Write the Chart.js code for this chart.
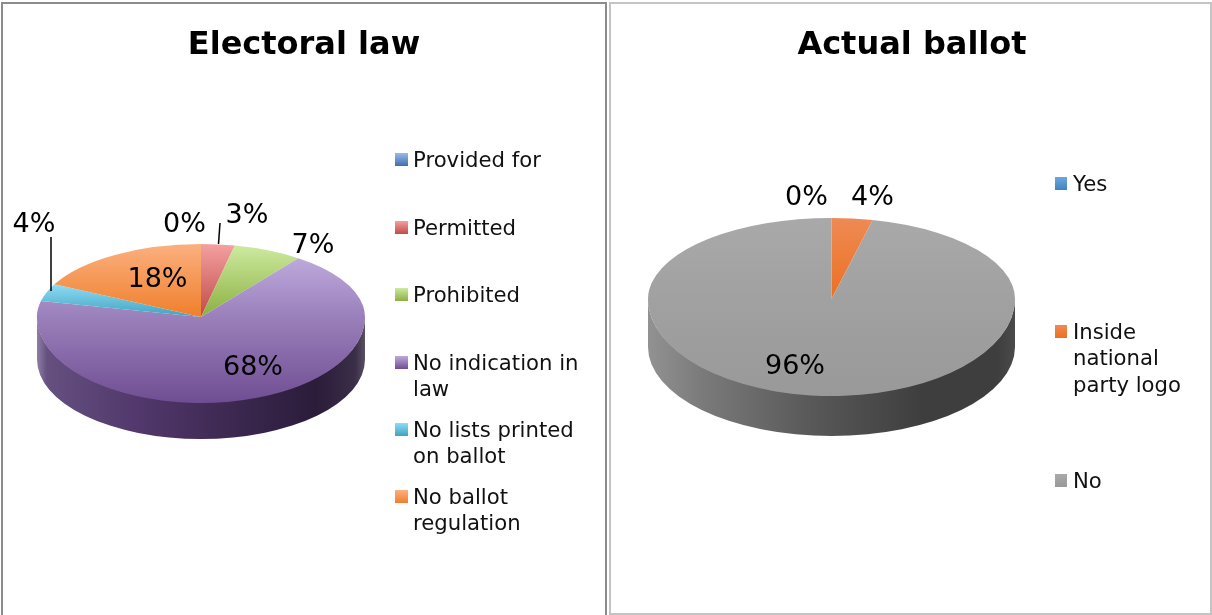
<!DOCTYPE html>
<html>
<head>
<meta charset="utf-8">
<title>Ballot charts</title>
<script src="https://cdn.jsdelivr.net/npm/chart.js@4"></script>
<style>
  html, body { margin: 0; padding: 0; background: #fff; width: 1212px; height: 615px; overflow: hidden; }
  canvas { position: absolute; top: 0; }
  #lawChart { left: 0; }
  #ballotChart { left: 608px; }
  .frame { position: absolute; box-sizing: border-box; pointer-events: none; }
  #lawFrame { left: 1px; top: 2px; width: 606px; height: 640px; border: 2px solid #8c8c8c; }
  #ballotFrame { left: 609px; top: 2px; width: 603px; height: 613px; border: 2px solid #c4c4c4; }
</style>
</head>
<body>
<canvas id="lawChart" width="608" height="615"></canvas>
<canvas id="ballotChart" width="608" height="615"></canvas>
<div class="frame" id="lawFrame"></div>
<div class="frame" id="ballotFrame"></div>
<script>
// electoral law pie
const lawTitle = 'Electoral law';
const lawCategories = ['Provided for', 'Permitted', 'Prohibited', 'No indication in law', 'No lists printed on ballot', 'No ballot regulation'];
const lawValues = [0, 3.3, 6.8, 68.4, 3.9, 17.6];

// actual ballot pie
const ballotTitle = 'Actual ballot';
const ballotCategories = ['Yes', 'Inside national party logo', 'No'];
const ballotValues = [0, 3.6, 96.4];

const FONT = '"DejaVu Sans", Verdana, sans-serif';

// light -> dark, top to bottom of every slice
const lawFills = [['#9db8ec', '#3f6fa8'], ['#f4a0a0', '#bf4b48'], ['#cdeaa0', '#8bb040'], ['#bda9dc', '#6f4d92'], ['#8fdcf5', '#3fa3c0'], ['#fbb07f', '#f07f2b']];
const ballotFills = [['#6ea6dc', '#3f82c4'], ['#ee8a55', '#ec7020'], ['#a9a9a9', '#999999']];

function sliceFill(values, fills) {
  return function (c) {
    const pair = fills[c.dataIndex];
    const area = c.chart.chartArea;
    if (!area) return pair[0];
    const total = values.reduce((a, b) => a + b, 0);
    const before = values.slice(0, c.dataIndex).reduce((a, b) => a + b, 0);
    const r = Math.min(area.right - area.left, area.bottom - area.top) / 2;
    const cy = (area.top + area.bottom) / 2;
    // vertical extent of this slice
    let top = cy, bottom = cy;
    for (let i = 0; i <= 60; i++) {
      const t = (before + values[c.dataIndex] * i / 60) / total * Math.PI * 2 - Math.PI / 2;
      const y = cy + r * Math.sin(t);
      top = Math.min(top, y);
      bottom = Math.max(bottom, y);
    }
    const g = c.chart.ctx.createLinearGradient(0, top, 0, bottom + 0.01);
    g.addColorStop(0, pair[0]);
    g.addColorStop(1, pair[1]);
    return g;
  };
}

// maps the round pie onto the tilted one, far half and near half have their own height
function tiltTransform(ctx, arc, o, ry) {
  ctx.translate(o.cx, o.apexY);
  ctx.scale(o.rx / arc.outerRadius, ry / arc.outerRadius);
  ctx.translate(-arc.x, -arc.y);
}

const tiltPlugin = {
  id: 'tilt',
  beforeDatasetsDraw(chart, args, o) {
    const ctx = chart.ctx;
    const arcs = chart.getDatasetMeta(0).data;
    // side wall
    arcs.forEach((arc, i) => {
      const a = Math.max(arc.startAngle, 0);
      const b = Math.min(arc.endAngle, Math.PI);
      if (b <= a || !o.sideStops[i]) return;
      const g = ctx.createLinearGradient(o.cx - o.rx, 0, o.cx + o.rx, 0);
      o.sideStops[i].forEach(s => g.addColorStop(s[0], s[1]));
      ctx.beginPath();
      ctx.ellipse(o.cx, o.apexY, o.rx, o.ryNear - 1, 0, a, b, false);
      ctx.ellipse(o.cx, o.wallY, o.rx, o.wallRy, 0, b, a, true);
      ctx.closePath();
      ctx.fillStyle = g;
      ctx.fill();
    });
    // far half, chart.js draws it
    ctx.save();
    ctx.beginPath();
    ctx.rect(0, 0, chart.width, o.apexY);
    ctx.clip();
    tiltTransform(ctx, arcs[0], o, o.ryFar);
  },
  afterDatasetsDraw(chart, args, o) {
    const ctx = chart.ctx;
    const arcs = chart.getDatasetMeta(0).data;
    ctx.restore();
    // near half, same arcs again
    ctx.save();
    ctx.beginPath();
    ctx.rect(0, o.apexY, chart.width, chart.height - o.apexY);
    ctx.clip();
    tiltTransform(ctx, arcs[0], o, o.ryNear);
    arcs.forEach(arc => arc.draw(ctx));
    ctx.restore();
  },
  afterDraw(chart, args, o) {
    const ctx = chart.ctx;
    // leader lines
    ctx.strokeStyle = '#000';
    ctx.lineWidth = 1.5;
    o.leaders.forEach(l => {
      ctx.beginPath();
      ctx.moveTo(l[0], l[1]);
      ctx.lineTo(l[2], l[3]);
      ctx.stroke();
    });
    // percent labels
    ctx.fillStyle = '#000';
    ctx.font = o.labelFont + 'px ' + FONT;
    ctx.textAlign = 'center';
    ctx.textBaseline = 'alphabetic';
    chart.data.datasets[0].data.forEach((v, i) => {
      const p = o.labelAt[i];
      ctx.fillText(Math.round(v) + '%', p[0], p[1]);
    });
    // legend
    ctx.textAlign = 'left';
    ctx.font = o.legendFont + 'px ' + FONT;
    o.legendLines.forEach((lines, i) => {
      const y = o.legendY[i];
      const g = ctx.createLinearGradient(0, y, 0, y + 13);
      g.addColorStop(0, o.fills[i][0]);
      g.addColorStop(1, o.fills[i][1]);
      ctx.fillStyle = g;
      ctx.fillRect(o.legendX, y, o.swatch, 13);
      ctx.fillStyle = '#111';
      lines.forEach((line, k) => ctx.fillText(line, o.legendX + 18, y + 14 + k * 26.3));
    });
  }
};

function makePie(id, title, categories, values, fills, tilt) {
  return new Chart(document.getElementById(id).getContext('2d'), {
    type: 'pie',
    data: {
      labels: categories,
      datasets: [{
        data: values,
        backgroundColor: sliceFill(values, fills),
        borderWidth: 0
      }]
    },
    options: {
      responsive: false,
      animation: false,
      layout: { padding: { bottom: 120 } },
      plugins: {
        legend: { display: false },
        tooltip: { enabled: false },
        title: {
          display: true,
          text: title,
          color: '#000',
          font: { family: FONT, size: 32, weight: 'bold' },
          padding: { top: 26, bottom: 10 }
        },
        tilt: Object.assign({ fills: fills }, tilt)
      }
    },
    plugins: [tiltPlugin]
  });
}

makePie('lawChart', lawTitle, lawCategories, lawValues, lawFills, {
  cx: 201, apexY: 317, rx: 164, ryFar: 73, ryNear: 86, wallY: 359.5, wallRy: 79.5,
  sideStops: [null, null, null,
    [[0, '#8f7fa5'], [0.03, '#655080'], [0.3, '#52386c'], [0.6, '#3c2850'], [0.85, '#2b1c3a'], [0.97, '#3a2e48'], [1, '#5a5060']],
    null, null],
  labelFont: 27,
  labelAt: [[184.5, 232], [247, 223], [313, 253], [253, 375], [34, 232], [157.5, 287]],
  leaders: [[220, 223, 218.5, 244], [51, 237, 51, 291]],
  legendFont: 21.2,
  legendX: 395,
  swatch: 13,
  legendY: [153, 221, 288, 356, 423, 490],
  legendLines: [['Provided for'], ['Permitted'], ['Prohibited'], ['No indication in', 'law'], ['No lists printed', 'on ballot'], ['No ballot', 'regulation']]
});

makePie('ballotChart', ballotTitle, ballotCategories, ballotValues, ballotFills, {
  cx: 223.5, apexY: 299, rx: 183.5, ryFar: 81, ryNear: 97, wallY: 347, wallRy: 89,
  sideStops: [null, null,
    [[0, '#929292'], [0.15, '#7a7a7a'], [0.45, '#585858'], [0.75, '#3e3e3e'], [0.95, '#3e3e3e'], [1, '#4a4a4a']]],
  labelFont: 27,
  labelAt: [[198.5, 205], [264.5, 205], [187, 374]],
  leaders: [],
  legendFont: 21.2,
  legendX: 447,
  swatch: 12,
  legendY: [177, 325, 474],
  legendLines: [['Yes'], ['Inside', 'national', 'party logo'], ['No']]
});
</script>
</body>
</html>
